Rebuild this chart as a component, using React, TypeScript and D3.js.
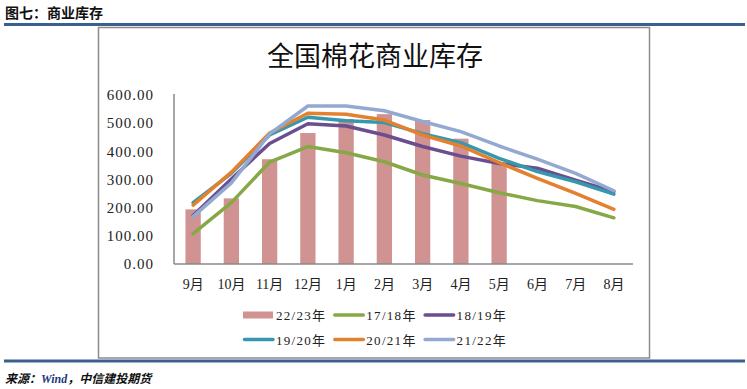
import React, { useEffect, useRef } from 'react';
import * as d3 from 'd3';

// 月份 (categories)
const months = ['9月', '10月', '11月', '12月', '1月', '2月', '3月', '4月', '5月', '6月', '7月', '8月'];

// 22/23年 bars (only up to 5月)
const stock2223 = [194, 233, 372, 465, 515, 532, 511, 445, 355];

// line series
const stock1718 = [108, 218, 362, 417, 395, 363, 316, 286, 253, 225, 204, 164];
const stock1819 = [172, 302, 428, 498, 490, 458, 417, 383, 357, 340, 298, 257];
const stock1920 = [218, 322, 458, 521, 509, 502, 463, 431, 375, 328, 292, 248];
const stock2021 = [209, 326, 465, 535, 532, 511, 458, 419, 360, 304, 251, 194];
const stock2122 = [168, 288, 462, 561, 561, 544, 506, 470, 419, 372, 322, 260];

const yTicks = [0, 100, 200, 300, 400, 500, 600];

const lineSeries = [
    { name: '17/18年', values: stock1718, color: '#86a845' },
    { name: '18/19年', values: stock1819, color: '#6a4e8f' },
    { name: '19/20年', values: stock1920, color: '#3598ae' },
    { name: '20/21年', values: stock2021, color: '#e4812f' },
    { name: '21/22年', values: stock2122, color: '#93a9d2' },
];

const barName = '22/23年';
const barColor = '#d09392';

const serif = "'Liberation Serif', 'Noto Sans CJK SC', serif";
const cjk = "'Noto Sans CJK SC', sans-serif";

const App = () => {

    const ref = useRef<SVGSVGElement>(null);

    const graph = () => {
        const svg = d3.select(ref.current);
        svg.selectAll('*').remove();

        const width = 747;
        const height = 389;

        svg.append('rect').attr('width', width).attr('height', height).attr('fill', '#fff');

        // page header
        svg.append('text')
            .attr('x', 5).attr('y', 18)
            .attr('font-family', cjk)
            .attr('font-weight', 'bold')
            .style('font-size', '14px')
            .attr('fill', '#111')
            .text('图七：商业库存');

        svg.append('rect').attr('x', 4).attr('y', 23).attr('width', 741).attr('height', 3).attr('fill', '#3a6092');

        // chart frame
        svg.append('rect')
            .attr('x', 98.5).attr('y', 27.5)
            .attr('width', 551).attr('height', 330.5)
            .attr('fill', '#fff')
            .attr('stroke', '#8c8c8c')
            .attr('stroke-width', 1.5);

        svg.append('rect').attr('x', 4).attr('y', 359.5).attr('width', 741).attr('height', 3).attr('fill', '#3a6092');

        // source
        const src = svg.append('text')
            .attr('x', 5).attr('y', 383)
            .attr('font-weight', 'bold')
            .attr('font-style', 'italic')
            .style('font-size', '12px')
            .attr('font-family', cjk)
            .attr('fill', '#111');
        src.append('tspan').text('来源：');
        src.append('tspan').attr('font-family', serif).attr('fill', '#1f3a7a').text('Wind');
        src.append('tspan').text('，中信建投期货');

        // title
        svg.append('text')
            .attr('x', 375).attr('y', 66)
            .attr('text-anchor', 'middle')
            .attr('font-family', cjk)
            .style('font-size', '27px')
            .attr('fill', '#111')
            .text('全国棉花商业库存');

        const left = 174, right = 633, top = 95, bottom = 264;

        const x = d3.scaleBand<string>()
            .domain(months)
            .range([left, right])
            .padding(0);

        const y = d3.scaleLinear()
            .domain([0, 600])
            .range([bottom, top]);

        const cx = (m: string) => (x(m) as number) + x.bandwidth() / 2;

        // y labels
        svg.append('g')
            .selectAll('text')
            .data(yTicks)
            .enter().append('text')
            .attr('x', 154)
            .attr('y', d => y(d))
            .attr('dy', '0.35em')
            .attr('text-anchor', 'end')
            .attr('font-family', serif)
            .style('font-size', '15px')
            .style('letter-spacing', '1px')
            .attr('fill', '#222')
            .text(d => d3.format('.2f')(d));

        // x labels
        svg.append('g')
            .selectAll('text')
            .data(months)
            .enter().append('text')
            .attr('x', d => cx(d))
            .attr('y', 289)
            .attr('text-anchor', 'middle')
            .attr('font-family', serif)
            .style('font-size', '14px')
            .attr('fill', '#222')
            .text(d => d);

        // bars
        const barW = x.bandwidth() * 0.4;
        svg.append('g')
            .selectAll('rect')
            .data(stock2223)
            .enter().append('rect')
            .attr('x', (d, i) => cx(months[i]) - barW / 2)
            .attr('y', d => y(d))
            .attr('width', barW)
            .attr('height', d => bottom - y(d))
            .attr('fill', barColor);

        // axes lines
        svg.append('line')
            .attr('x1', left).attr('x2', left)
            .attr('y1', top - 1).attr('y2', bottom)
            .attr('stroke', '#8a8a8a').attr('stroke-width', 1.5);
        svg.append('line')
            .attr('x1', left).attr('x2', right)
            .attr('y1', bottom).attr('y2', bottom)
            .attr('stroke', '#8a8a8a').attr('stroke-width', 1.5);

        // lines
        const line = d3.line<number>()
            .x((d, i) => cx(months[i]))
            .y(d => y(d));

        svg.append('g')
            .selectAll('path')
            .data(lineSeries)
            .enter().append('path')
            .attr('d', d => line(d.values))
            .attr('fill', 'none')
            .attr('stroke', d => d.color)
            .attr('stroke-width', 3.5)
            .attr('stroke-linejoin', 'round')
            .attr('stroke-linecap', 'round');

        // legend
        const legendItems = [{ name: barName, color: barColor, bar: true }]
            .concat(lineSeries.map(s => ({ name: s.name, color: s.color, bar: false })));

        const legend = svg.append('g')
            .selectAll('g')
            .data(legendItems)
            .enter().append('g')
            .attr('transform', (d, i) => `translate(${243 + (i % 3) * 90.3}, ${315 + Math.floor(i / 3) * 24.5})`);

        legend.filter(d => d.bar).append('rect')
            .attr('x', 0).attr('y', -3.5)
            .attr('width', 30).attr('height', 7)
            .attr('fill', d => d.color);

        legend.filter(d => !d.bar).append('line')
            .attr('x1', 1.5).attr('x2', 30)
            .attr('stroke', d => d.color)
            .attr('stroke-width', 3.5)
            .attr('stroke-linecap', 'round');

        legend.append('text')
            .attr('x', 33)
            .attr('y', 5)
            .attr('font-family', serif)
            .style('font-size', '13px')
            .style('letter-spacing', '1.3px')
            .attr('fill', '#222')
            .text(d => d.name);
    };

    useEffect(() => graph());

    return (
        <svg ref={ref} width="747" height="389" style={{ position: 'absolute', left: 0, top: 0 }}></svg>
    );
};

export default App;
